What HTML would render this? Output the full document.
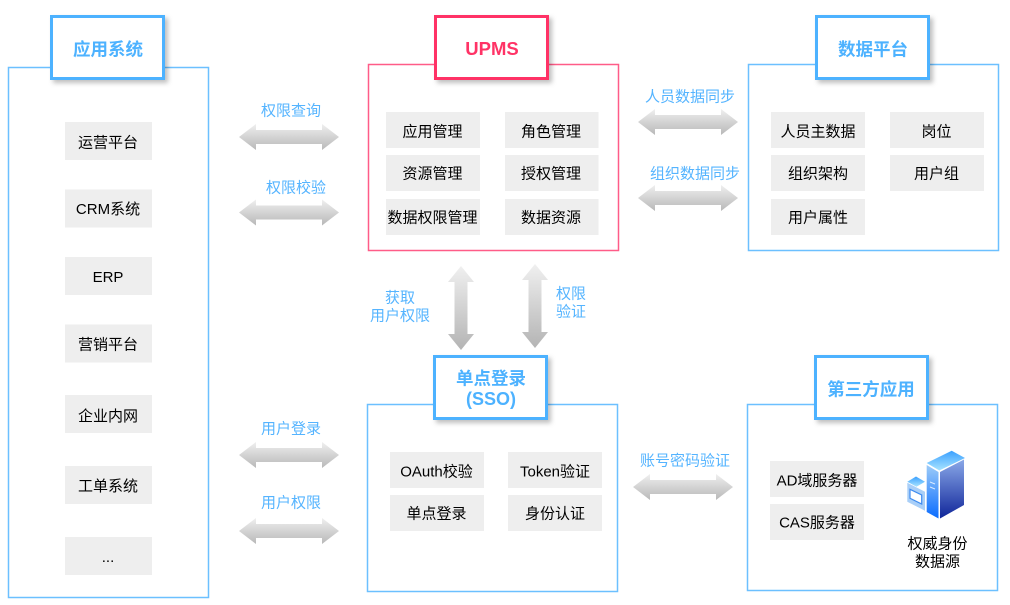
<!DOCTYPE html>
<html lang="zh">
<head>
<meta charset="utf-8">
<title>UPMS</title>
<style>
html,body{margin:0;padding:0;background:#fff;width:1010px;height:605px;overflow:hidden}
svg{display:block}
text{font-family:"Liberation Sans","Noto Sans CJK SC",sans-serif;text-anchor:middle}
.c{font-size:15px;fill:#000}
.l{font-size:15px;fill:#55b4ff}
.h{font-size:17.500px;font-weight:700;fill:#4db2ff}
.p{fill:#eeeeee}
.o{fill:#fff;stroke:#6cc0ff;stroke-width:1.5}
.t{fill:#fff;stroke:#4db2ff;stroke-width:3;filter:url(#s)}
</style>
</head>
<body>
<svg width="1010" height="605" viewBox="0 0 1010 605" xmlns="http://www.w3.org/2000/svg">
<defs>
<filter id="s" x="-20%" y="-20%" width="150%" height="150%"><feDropShadow dx="3" dy="3" stdDeviation="2.5" flood-color="#000" flood-opacity=".25"/></filter>
<linearGradient id="gh" x1="0" y1="0" x2="0" y2="1"><stop offset="0" stop-color="#efefef"/><stop offset="1" stop-color="#b8b8b8"/></linearGradient>
<linearGradient id="gv" x1="0" y1="0" x2="0" y2="1"><stop offset="0" stop-color="#f0f0f0"/><stop offset="1" stop-color="#b4b4b4"/></linearGradient>
<linearGradient id="t1" x1="0" y1="0" x2="0" y2="1"><stop offset="0" stop-color="#3aa0ff"/><stop offset="1" stop-color="#a8e4ff"/></linearGradient>
<linearGradient id="t2" x1="0" y1="0" x2="0" y2="1"><stop offset="0" stop-color="#9ccbf8"/><stop offset="1" stop-color="#0a6cff"/></linearGradient>
<linearGradient id="t3" x1="0" y1="0" x2="0" y2="1"><stop offset="0" stop-color="#8aa8e8"/><stop offset="1" stop-color="#10269a"/></linearGradient>
<path id="ah" d="M0 13L17 0V6H83V0L100 13L83 26V20H17V26Z" fill="url(#gh)"/>
<path id="av" d="M13 0L26 16H19.500V68H26L13 84L0 68H6.500V16H0Z" fill="url(#gv)"/>
</defs>

<!-- outer panels -->
<rect class="o" x="8.500" y="67.500" width="200" height="530"/>
<rect class="o" x="368.500" y="64.500" width="250" height="186" style="stroke:#ff5c88"/>
<rect class="o" x="748.500" y="64.500" width="250" height="186"/>
<rect class="o" x="367.500" y="404.500" width="250" height="187"/>
<rect class="o" x="747.500" y="404.500" width="250" height="186"/>

<!-- title boxes -->
<rect class="t" x="51.500" y="16.500" width="112" height="62"/>
<rect class="t" x="435.500" y="16.500" width="112" height="62" style="stroke:#ff3366"/>
<rect class="t" x="816.500" y="16.500" width="112" height="62"/>
<rect class="t" x="434.500" y="356.500" width="112" height="62"/>
<rect class="t" x="815.500" y="356.500" width="112" height="62"/>

<text class="h" x="108" y="55.500">应用系统</text>
<text class="h" x="492" y="55" style="fill:#ff3366;font-size:18.500px">UPMS</text>
<text class="h" x="873" y="55.500">数据平台</text>
<text class="h" x="491" y="384.500">单点登录</text>
<text class="h" x="491" y="405" style="font-size:18px">(SSO)</text>
<text class="h" x="871" y="395.500">第三方应用</text>

<!-- app cells -->
<rect class="p" x="65" y="122" width="87" height="38"/>
<rect class="p" x="65" y="189.500" width="87" height="38"/>
<rect class="p" x="65" y="257" width="87" height="38"/>
<rect class="p" x="65" y="324.500" width="87" height="38"/>
<rect class="p" x="65" y="395" width="87" height="38"/>
<rect class="p" x="65" y="466" width="87" height="38"/>
<rect class="p" x="65" y="537" width="87" height="38"/>
<text class="c" x="108" y="147.500">运营平台</text>
<text class="c" x="108" y="214">CRM系统</text>
<text class="c" x="108" y="282">ERP</text>
<text class="c" x="108" y="349.500">营销平台</text>
<text class="c" x="108" y="421">企业内网</text>
<text class="c" x="108" y="491">工单系统</text>
<text class="c" x="108" y="562">...</text>

<!-- UPMS cells -->
<rect class="p" x="386" y="112" width="94" height="36"/>
<rect class="p" x="505" y="112" width="93.500" height="36"/>
<rect class="p" x="386" y="155" width="94" height="36"/>
<rect class="p" x="505" y="155" width="93.500" height="36"/>
<rect class="p" x="386" y="199" width="94" height="36"/>
<rect class="p" x="505" y="199" width="93.500" height="36"/>
<text class="c" x="432.500" y="136.500">应用管理</text>
<text class="c" x="551" y="136.500">角色管理</text>
<text class="c" x="432.500" y="178.500">资源管理</text>
<text class="c" x="551" y="178.500">授权管理</text>
<text class="c" x="432.500" y="222.500">数据权限管理</text>
<text class="c" x="551" y="222.500">数据资源</text>

<!-- Data cells -->
<rect class="p" x="771" y="112" width="94" height="36"/>
<rect class="p" x="890" y="112" width="94" height="36"/>
<rect class="p" x="771" y="155" width="94" height="36"/>
<rect class="p" x="890" y="155" width="94" height="36"/>
<rect class="p" x="771" y="199" width="94" height="36"/>
<text class="c" x="818" y="136.500">人员主数据</text>
<text class="c" x="936.500" y="136.500">岗位</text>
<text class="c" x="818" y="178.500">组织架构</text>
<text class="c" x="936.500" y="178.500">用户组</text>
<text class="c" x="818" y="222.500">用户属性</text>

<!-- SSO cells -->
<rect class="p" x="390" y="452" width="94" height="36"/>
<rect class="p" x="508" y="452" width="94" height="36"/>
<rect class="p" x="390" y="495" width="94" height="36"/>
<rect class="p" x="508" y="495" width="94" height="36"/>
<text class="c" x="436.500" y="476.500">OAuth校验</text>
<text class="c" x="555" y="476.500">Token验证</text>
<text class="c" x="436.500" y="518.500">单点登录</text>
<text class="c" x="555" y="518.500">身份认证</text>

<!-- Third cells -->
<rect class="p" x="770" y="461" width="94" height="36"/>
<rect class="p" x="770" y="504" width="94" height="36"/>
<text class="c" x="817" y="485.500">AD域服务器</text>
<text class="c" x="817" y="527.500">CAS服务器</text>
<text class="c" x="937.500" y="548.500">权威身份</text>
<text class="c" x="937.500" y="566.500">数据源</text>

<!-- arrows -->
<use href="#ah" x="239" y="124"/>
<use href="#ah" x="239" y="199.500"/>
<use href="#ah" x="638" y="109"/>
<use href="#ah" x="638" y="185"/>
<use href="#ah" x="633" y="474"/>
<use href="#ah" x="239" y="442"/>
<use href="#ah" x="239" y="518"/>
<use href="#av" x="448" y="266"/>
<use href="#av" x="522" y="264"/>

<!-- arrow labels -->
<text class="l" x="291" y="115.500">权限查询</text>
<text class="l" x="296" y="192.500">权限校验</text>
<text class="l" x="690" y="101.500">人员数据同步</text>
<text class="l" x="695" y="178.500">组织数据同步</text>
<text class="l" x="400" y="302.500">获取</text>
<text class="l" x="400" y="320.500">用户权限</text>
<text class="l" x="571" y="298.500">权限</text>
<text class="l" x="571" y="316.500">验证</text>
<text class="l" x="685" y="465.500">账号密码验证</text>
<text class="l" x="291" y="433.500">用户登录</text>
<text class="l" x="291" y="507.500">用户权限</text>

<!-- server icon -->
<g>
<polygon points="907.300,481.700 916,476.500 925,481.700 916.500,486.700" fill="url(#t1)"/>
<polygon points="907.300,482.700 925,491.700 925,510.700 907.300,501.700" fill="#a9cff8"/>
<polygon points="910,489.300 921.700,495 921.700,504 910,498.300" fill="#fff" stroke="#3f8cf0" stroke-width="1.200"/>
<polygon points="926.700,463 951.700,450.700 965,458 939.300,470.500" fill="url(#t1)"/>
<polygon points="926.700,465 938.500,472 938.500,518.500 926.700,512" fill="url(#t2)"/>
<polygon points="940,472 964,459.500 964,505 940,518.500" fill="url(#t3)"/>
<path d="M930 482l5 2M930 487l5 2" stroke="#dbeaff" stroke-width="1"/>
</g>
</svg>
</body>
</html>
